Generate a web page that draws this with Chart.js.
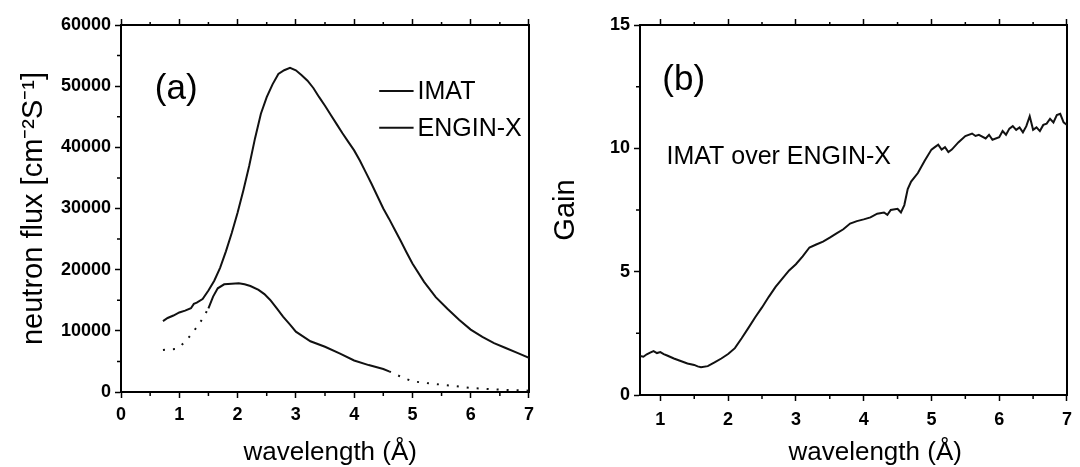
<!DOCTYPE html>
<html lang="en">
<head>
    <meta charset="UTF-8">
    <title>Neutron flux and gain</title>
    <style>
        html, body { margin: 0; padding: 0; background: #fff; }
        .panel { position: absolute; top: 0; }
        #chartA { left: 0; }
        #chartB { left: 540px; }
    </style>
</head>
<body>
    <canvas id="chartA" class="panel" width="540" height="467"></canvas>
    <canvas id="chartB" class="panel" width="540" height="467"></canvas>

    <script src="https://cdn.jsdelivr.net/npm/chart.js"></script>
    <script>
        // (a) neutron flux, wavelength in Å
        const imatX = [0.72, 0.8, 0.9, 1.0, 1.1, 1.2, 1.25, 1.3, 1.4, 1.5, 1.6, 1.7, 1.8, 1.9, 2.0, 2.1, 2.2, 2.3, 2.4, 2.5,
            2.6, 2.7, 2.8, 2.9, 3.0, 3.1, 3.2, 3.3, 3.4, 3.5, 3.6, 3.7, 3.8, 3.9, 4.0, 4.1, 4.2, 4.3, 4.4, 4.5,
            4.6, 4.7, 4.8, 4.9, 5.0, 5.2, 5.4, 5.6, 5.8, 6.0, 6.2, 6.4, 6.6, 6.8, 7.0];
        const imatY = [11600, 12100, 12500, 13000, 13300, 13700, 14400, 14600, 15200, 16600, 18200, 20300, 23000, 26000, 29300, 33000, 37000, 41500, 45500, 48200,
            50300, 52000, 52600, 53000, 52600, 51800, 50900, 49700, 48200, 46800, 45300, 43800, 42300, 40900, 39500, 37800, 35900, 34000, 32000, 30000,
            28300, 26500, 24700, 22800, 21000, 18000, 15500, 13600, 11800, 10200, 9000, 8000, 7200, 6400, 5600];

        const enginX = [0.72, 0.8, 0.93, 1.04, 1.15, 1.25, 1.34, 1.42, 1.5, 1.58, 1.66, 1.77, 1.9, 2.02, 2.12, 2.22, 2.36, 2.46, 2.56, 2.67,
            2.78, 2.9, 3.0, 3.25, 3.5, 3.75, 4.0, 4.25, 4.5, 4.6, 4.8, 5.0, 5.25, 5.5, 5.75, 6.0, 6.5, 7.0];
        const enginY = [6870, 6950, 7030, 7680, 8770, 9970, 11120, 12300, 13680, 15600, 16950, 17600, 17700, 17770, 17600, 17330, 16680, 16000, 15040, 13700,
            12310, 11000, 9860, 8300, 7400, 6300, 5150, 4400, 3750, 3380, 2500, 1750, 1450, 1200, 950, 650, 380, 220];

        // (b) IMAT over ENGIN-X gain
        const gainX = [0.70, 0.75, 0.80, 0.85, 0.90, 0.95, 1.00, 1.05, 1.10, 1.20, 1.30, 1.40, 1.50, 1.55, 1.60, 1.70, 1.80, 1.90, 2.00, 2.10,
            2.20, 2.30, 2.40, 2.50, 2.60, 2.70, 2.80, 2.90, 3.00, 3.10, 3.20, 3.30, 3.40, 3.50, 3.60, 3.70, 3.80, 3.90, 4.00, 4.10,
            4.20, 4.30, 4.35, 4.40, 4.50, 4.55, 4.60, 4.65, 4.70, 4.80, 4.90, 5.00, 5.05, 5.10, 5.15, 5.20, 5.25, 5.30, 5.40, 5.50,
            5.60, 5.65, 5.70, 5.80, 5.85, 5.90, 6.00, 6.05, 6.10, 6.15, 6.20, 6.25, 6.30, 6.35, 6.40, 6.45, 6.50, 6.55, 6.60, 6.65,
            6.70, 6.75, 6.80, 6.85, 6.90, 6.95, 7.00];
        const gainY = [1.58, 1.55, 1.65, 1.72, 1.78, 1.70, 1.74, 1.66, 1.60, 1.48, 1.38, 1.28, 1.22, 1.16, 1.13, 1.17, 1.32, 1.48, 1.66, 1.90,
            2.30, 2.72, 3.15, 3.55, 3.98, 4.38, 4.72, 5.05, 5.30, 5.62, 5.98, 6.10, 6.22, 6.38, 6.55, 6.72, 6.95, 7.05, 7.12, 7.20,
            7.35, 7.40, 7.30, 7.50, 7.55, 7.40, 7.70, 8.35, 8.65, 9.00, 9.50, 9.95, 10.05, 10.15, 9.95, 10.05, 9.85, 9.95, 10.25, 10.50,
            10.60, 10.50, 10.55, 10.40, 10.55, 10.35, 10.45, 10.70, 10.55, 10.80, 10.90, 10.75, 10.85, 10.65, 10.90, 11.30, 10.75, 10.85, 10.70, 10.95,
            11.00, 11.20, 11.05, 11.35, 11.40, 11.05, 10.95];

        // tick values
        const xTicksA = [0, 1, 2, 3, 4, 5, 6, 7];
        const xMinorA = [0.5, 1.5, 2.5, 3.5, 4.5, 5.5, 6.5];
        const yTicksA = [0, 10000, 20000, 30000, 40000, 50000, 60000];
        const yMinorA = [5000, 15000, 25000, 35000, 45000, 55000];
        const xTicksB = [1, 2, 3, 4, 5, 6, 7];
        const xMinorB = [1.5, 2.5, 3.5, 4.5, 5.5, 6.5];
        const yTicksB = [0, 5, 10, 15];
        const yMinorB = [2.5, 7.5, 12.5];

        const toPoints = (xs, ys) => xs.map((v, i) => ({ x: v, y: ys[i] }));

        Chart.defaults.font.family = '"Liberation Sans", Arial, sans-serif';
        Chart.defaults.color = '#000';

        const tickFont = { size: 18, weight: 'bold' };
        const lineColor = '#111';

        // minor ticks, panel texts and the small legend
        const panelText = {
            id: 'panelText',
            afterDraw(chart, args, opts) {
                const { ctx, chartArea } = chart;
                const x = chart.scales.x, y = chart.scales.y;
                ctx.save();
                ctx.strokeStyle = '#000';
                ctx.lineWidth = 1.5;
                ctx.beginPath();
                opts.minorX.forEach(v => {
                    const px = x.getPixelForValue(v);
                    ctx.moveTo(px, chartArea.bottom);
                    ctx.lineTo(px, chartArea.bottom + 4);
                    ctx.moveTo(px, chartArea.top);
                    ctx.lineTo(px, chartArea.top - 3);
                });
                opts.minorY.forEach(v => {
                    const py = y.getPixelForValue(v);
                    ctx.moveTo(chartArea.left, py);
                    ctx.lineTo(chartArea.left - 4, py);
                });
                ctx.stroke();

                ctx.fillStyle = '#000';
                ctx.textBaseline = 'middle';
                opts.labels.forEach(l => {
                    ctx.font = l.font;
                    ctx.textAlign = l.align || 'left';
                    const py = l.py !== undefined ? l.py : y.getPixelForValue(l.y);
                    ctx.fillText(l.text, x.getPixelForValue(l.x), py);
                });

                if (opts.legend) {
                    const lg = opts.legend;
                    ctx.font = lg.font;
                    ctx.textAlign = 'left';
                    chart.data.datasets.forEach((ds, i) => {
                        const py = y.getPixelForValue(lg.y[i]);
                        const x1 = x.getPixelForValue(lg.x1), x2 = x.getPixelForValue(lg.x2);
                        ctx.strokeStyle = ds.borderColor;
                        ctx.lineWidth = 2;
                        ctx.beginPath();
                        ctx.moveTo(x1, py);
                        ctx.lineTo(x2, py);
                        ctx.stroke();
                        ctx.fillText(ds.label, x2 + 4, py + 1);
                    });
                }
                ctx.restore();
            }
        };

        function makeScales(cfg) {
            return {
                x: {
                    type: 'linear', position: 'bottom', min: cfg.xMin, max: cfg.xMax,
                    afterBuildTicks: s => { s.ticks = cfg.xTicks.map(v => ({ value: v })); },
                    afterFit: s => { s.height = cfg.bottom; },
                    ticks: { font: tickFont, padding: cfg.xPad, autoSkip: false, maxRotation: 0, callback: v => String(v) },
                    grid: { drawOnChartArea: false, tickLength: 6, tickWidth: 1.5, tickColor: '#000' },
                    border: { color: '#000', width: 2 }
                },
                xTop: {
                    type: 'linear', position: 'top', min: cfg.xMin, max: cfg.xMax,
                    afterBuildTicks: s => { s.ticks = cfg.xTicks.map(v => ({ value: v })); },
                    afterFit: s => { s.height = cfg.top; },
                    ticks: { display: false },
                    grid: { drawOnChartArea: false, tickLength: 6, tickWidth: 1.5, tickColor: '#000' },
                    border: { color: '#000', width: 2 }
                },
                y: {
                    type: 'linear', position: 'left', min: cfg.yMin, max: cfg.yMax,
                    afterBuildTicks: s => { s.ticks = cfg.yTicks.map(v => ({ value: v })); },
                    afterFit: s => { s.width = cfg.left; },
                    ticks: { font: tickFont, padding: 4, callback: v => String(v) },
                    grid: { drawOnChartArea: false, tickLength: 6, tickWidth: 1.5, tickColor: '#000' },
                    border: { color: '#000', width: 2 },
                    title: { display: true, text: cfg.yTitle, font: { size: 29 }, padding: { top: cfg.yTitlePad, bottom: 0 } }
                },
                yRight: {
                    type: 'linear', position: 'right', min: 0, max: 1,
                    afterFit: s => { s.width = cfg.right; },
                    ticks: { display: false },
                    grid: { display: false },
                    border: { color: '#000', width: 2 }
                }
            };
        }

        const baseOptions = {
            responsive: false,
            animation: false,
            devicePixelRatio: 1,
            layout: { padding: 0 },
            elements: { point: { radius: 0 }, line: { borderWidth: 2, tension: 0 } },
        };

        const dotted = ctx => (ctx.p0.parsed.x < 1.49 || ctx.p0.parsed.x >= 4.59) ? [2, 8] : undefined;

        new Chart(document.getElementById('chartA'), {
            type: 'line',
            data: {
                datasets: [
                    { label: 'IMAT', data: toPoints(imatX, imatY), borderColor: lineColor },
                    { label: 'ENGIN-X', data: toPoints(enginX, enginY), borderColor: lineColor, segment: { borderDash: dotted } }
                ]
            },
            options: {
                ...baseOptions,
                scales: makeScales({
                    xMin: 0, xMax: 7, xTicks: xTicksA, yMin: 0, yMax: 60000, yTicks: yTicksA,
                    left: 121, right: 2, top: 25, bottom: 75, xPad: 6,
                    yTitle: 'neutron flux [cm⁻²S⁻¹]', yTitlePad: 17
                }),
                plugins: {
                    legend: { display: false },
                    tooltip: { enabled: false },
                    panelText: {
                        minorX: xMinorA, minorY: yMinorA,
                        labels: [
                            { text: '(a)', x: 0.58, y: 49500, font: '35px "Liberation Sans"' },
                            { text: 'wavelength (Å)', x: 3.59, py: 453, align: 'center', font: '26px "Liberation Sans"' }
                        ],
                        legend: { x1: 4.43, x2: 5.02, y: [49200, 43200], font: '25px "Liberation Sans"' }
                    }
                }
            },
            plugins: [panelText]
        });

        new Chart(document.getElementById('chartB'), {
            type: 'line',
            data: {
                datasets: [
                    { label: 'Gain', data: toPoints(gainX, gainY), borderColor: lineColor }
                ]
            },
            options: {
                ...baseOptions,
                scales: makeScales({
                    xMin: 0.7, xMax: 7, xTicks: xTicksB, yMin: 0, yMax: 15, yTicks: yTicksB,
                    left: 100, right: 8, top: 25, bottom: 72, xPad: 8,
                    yTitle: 'Gain', yTitlePad: 9
                }),
                plugins: {
                    legend: { display: false },
                    tooltip: { enabled: false },
                    panelText: {
                        minorX: xMinorB, minorY: yMinorB,
                        labels: [
                            { text: '(b)', x: 1.03, y: 12.75, font: '35px "Liberation Sans"' },
                            { text: 'IMAT over ENGIN-X', x: 1.09, y: 9.65, font: '25px "Liberation Sans"' },
                            { text: 'wavelength (Å)', x: 4.17, py: 453, align: 'center', font: '26px "Liberation Sans"' }
                        ]
                    }
                }
            },
            plugins: [panelText]
        });
    </script>
</body>
</html>
